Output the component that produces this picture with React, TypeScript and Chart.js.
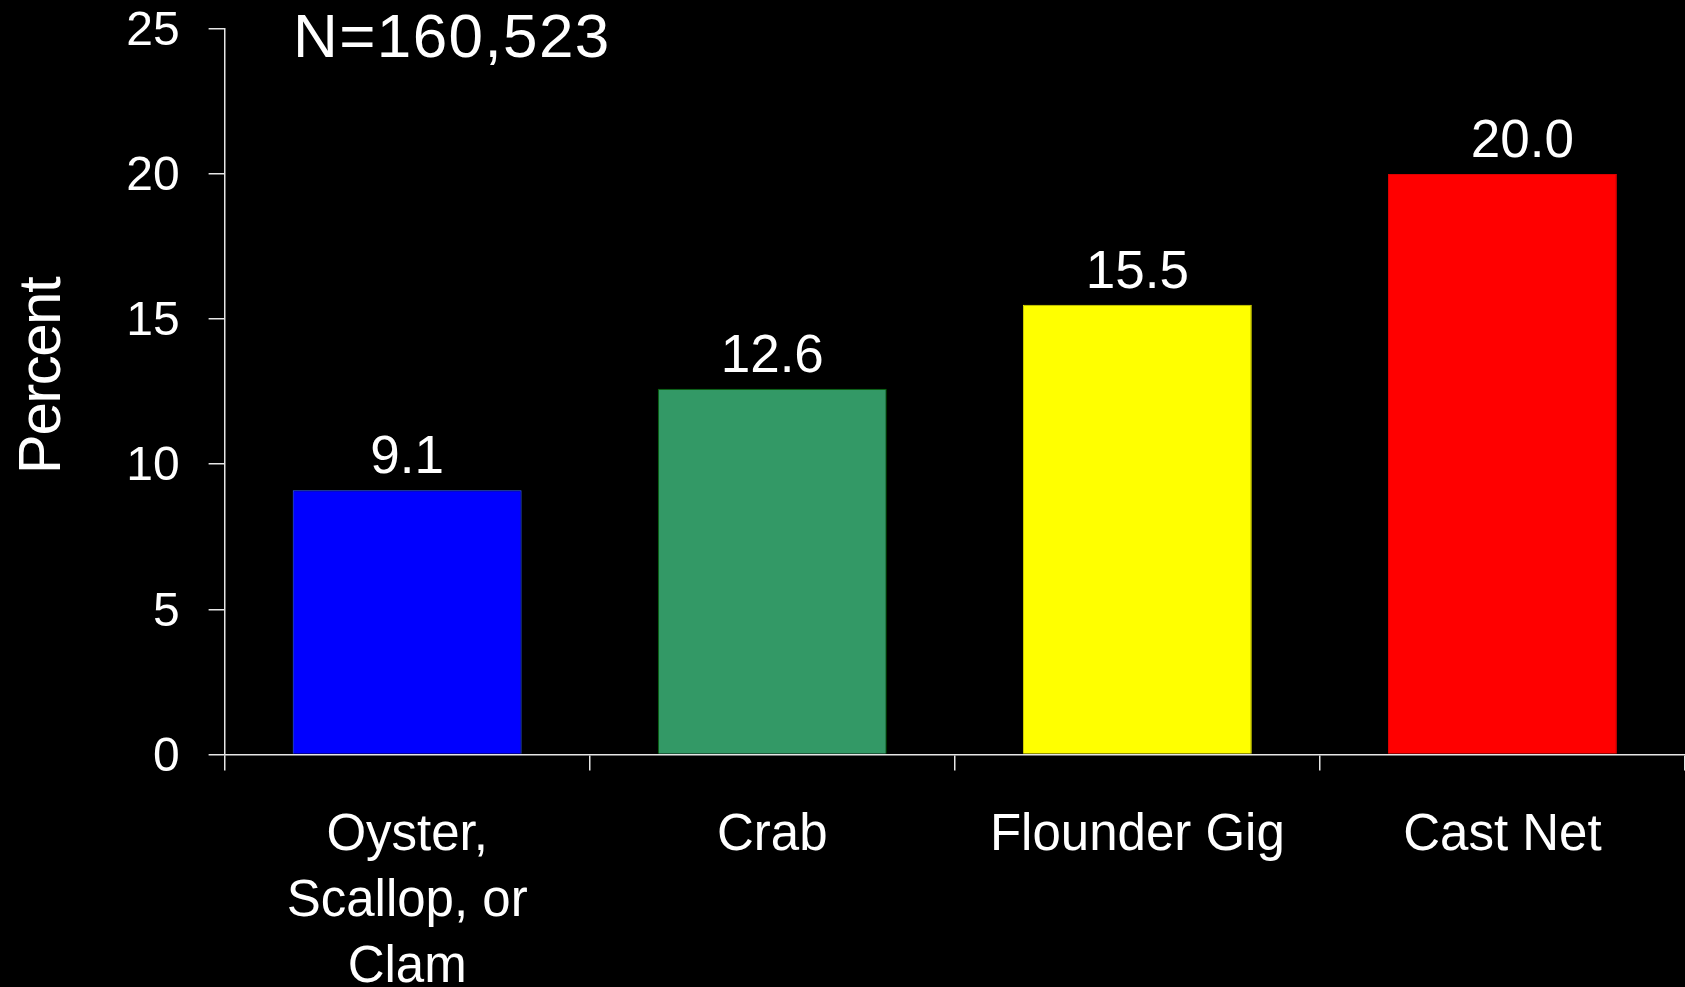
import React, { useEffect, useRef } from "react";
import { Chart, registerables } from "chart.js";
Chart.register(...registerables);

const categories: (string | string[])[] = [["Oyster,", "Scallop, or", "Clam"], "Crab", "Flounder Gig", "Cast Net"];
const values = [9.1, 12.6, 15.5, 20.0];
const barColors = ["#0000FF", "#339966", "#FFFF00", "#FF0000"];
const barBorders = ["#3366FF", "#006600", "#DDDD00", "#DD0000"];
const yMin = 0;
const yMax = 25;
const yStep = 5;
const sampleLabel = "N=160,523";
const yTitle = "Percent";

const FONT = "'Liberation Sans', Arial, sans-serif";
const AXIS_COLOR = "#e6e6e6";
// style: per-label horizontal nudge of the value labels (as in the original slide)
const LABEL_NUDGE = [0, 0, 0, 20];

const overlayPlugin = {
  id: "overlay",
  afterDatasetsDraw(chart: any) {
    const ctx = chart.ctx;
    const meta = chart.getDatasetMeta(0);
    ctx.save();
    ctx.fillStyle = "#ffffff";
    ctx.font = `53px ${FONT}`;
    ctx.textAlign = "center";
    ctx.textBaseline = "alphabetic";
    meta.data.forEach((el: any, i: number) => {
      ctx.fillText(values[i].toFixed(1), el.x + LABEL_NUDGE[i], el.y - 17);
    });
    // sample size
    ctx.font = `62px ${FONT}`;
    ctx.textAlign = "left";
    (ctx as any).letterSpacing = "1.4px";
    ctx.fillText(sampleLabel, 293, 57);
    // y title
    (ctx as any).letterSpacing = "-1.5px";
    ctx.translate(60, 376);
    ctx.rotate(-Math.PI / 2);
    ctx.textAlign = "center";
    ctx.textBaseline = "alphabetic";
    ctx.font = `60px ${FONT}`;
    ctx.fillText(yTitle, 0, 0);
    (ctx as any).letterSpacing = "0px";
    ctx.restore();
  },
};

export default function App() {
  const ref = useRef<HTMLCanvasElement | null>(null);
  useEffect(() => {
    document.body.style.margin = "0";
    document.body.style.background = "#000";
    const chart = new Chart(ref.current as HTMLCanvasElement, {
      type: "bar",
      data: {
        labels: categories,
        datasets: [
          {
            data: values,
            backgroundColor: barColors,
            borderColor: barBorders,
            borderWidth: 1,
            barPercentage: 0.627,
            categoryPercentage: 1,
          },
        ],
      },
      options: {
        animation: false,
        responsive: false,
        devicePixelRatio: 1,
        layout: { padding: { top: 29, right: 0, left: 0, bottom: 0 } },
        plugins: { legend: { display: false }, tooltip: { enabled: false } },
        scales: {
          x: {
            grid: {
              color: AXIS_COLOR,
              drawOnChartArea: false,
              drawTicks: true,
              tickLength: 16,
              lineWidth: 1.5,
              offset: true,
            },
            border: { color: AXIS_COLOR, width: 1.5 },
            ticks: {
              color: "#ffffff",
              font: { family: FONT, size: 51, lineHeight: 1.29 },
              padding: 33,
              maxRotation: 0,
              autoSkip: false,
            },
            afterFit: (s: any) => {
              s.height = 232.6;
              s.paddingLeft = 0;
              s.paddingRight = 0;
            },
          },
          y: {
            min: yMin,
            max: yMax,
            grid: {
              color: AXIS_COLOR,
              drawOnChartArea: false,
              drawTicks: true,
              tickLength: 16,
              lineWidth: 1.5,
            },
            border: { color: AXIS_COLOR, width: 1.5 },
            ticks: {
              stepSize: yStep,
              color: "#ffffff",
              font: { family: FONT, size: 48, lineHeight: 1 },
              padding: 29,
              labelOffset: 3,
            },
            afterFit: (s: any) => {
              s.width = 224.6;
              s.paddingTop = 0;
              s.paddingBottom = 0;
            },
          },
        },
      },
      plugins: [overlayPlugin],
    });
    return () => chart.destroy();
  }, []);
  return (
    <div style={{ position: "fixed", left: 0, top: 0, width: 1685, height: 987, background: "#000" }}>
      <canvas ref={ref} width={1685} height={987} />
    </div>
  );
}
